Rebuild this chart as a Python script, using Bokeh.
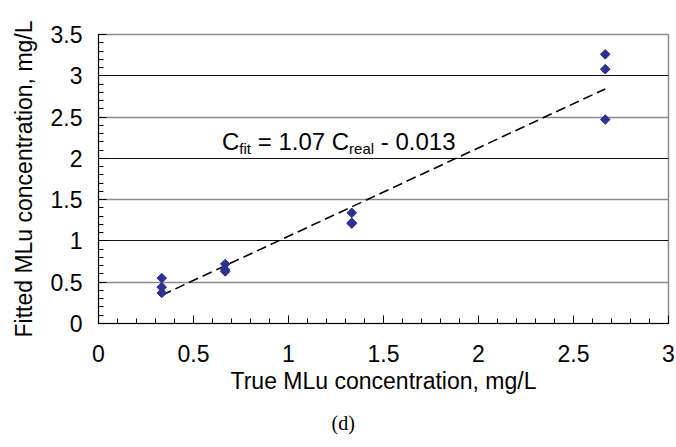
from bokeh.plotting import figure
from bokeh.models import Range1d, SingleIntervalTicker, FixedTicker, Grid, Label, Title, ColumnDataSource
from bokeh.embed import file_html
from bokeh.resources import INLINE
import math

# ---- data ----
true_conc = [0.333, 0.333, 0.333, 0.667, 0.667, 0.667, 1.333, 1.333, 1.333, 2.667, 2.667, 2.667]
fitted_conc = [0.55, 0.44, 0.37, 0.72, 0.65, 0.63, 1.34, 1.22, 1.21, 3.26, 3.08, 2.47]
fit_x = [0.333, 2.667]
fit_y = [0.343, 2.841]
x_ticks = [0, 0.5, 1, 1.5, 2, 2.5, 3]
x_tick_labels = ["0", "0.5", "1", "1.5", "2", "2.5", "3"]
y_ticks = [0, 0.5, 1, 1.5, 2, 2.5, 3, 3.5]
y_tick_labels = ["0", "0.5", "1", "1.5", "2", "2.5", "3", "3.5"]
x_title = "True MLu concentration, mg/L"
y_title = "Fitted MLu concentration, mg/L"
caption = "(d)"

FONT = "Liberation Sans"

p = figure(width=676, height=447, output_backend="svg", toolbar_location=None,
           x_range=Range1d(0, 3), y_range=Range1d(0, 3.5),
           min_border_left=98, min_border_right=8, min_border_top=34, min_border_bottom=124)
p.background_fill_color = "white"
p.border_fill_color = "white"
p.outline_line_color = "#8c8c8c"
p.outline_line_width = 1.5

# grids
p.xgrid.visible = False
p.ygrid.ticker = FixedTicker(ticks=[1, 2, 3])
p.ygrid.grid_line_color = "#111111"
p.ygrid.grid_line_width = 1
half_grid = Grid(dimension=1, ticker=FixedTicker(ticks=[0.5, 1.5, 2.5]),
                 grid_line_color="#8a8a8a", grid_line_width=1.5)
p.add_layout(half_grid)

for ax, ticks, labels in ((p.xaxis[0], x_ticks, x_tick_labels), (p.yaxis[0], y_ticks, y_tick_labels)):
    ax.ticker = SingleIntervalTicker(interval=0.5, num_minor_ticks=5)
    ax.major_label_overrides = {t: l for t, l in zip(ticks, labels)}
    ax.axis_line_color = "black"
    ax.axis_line_width = 1
    ax.major_tick_in = 8
    ax.major_tick_out = 0
    ax.minor_tick_in = 5
    ax.minor_tick_out = 0
    ax.major_tick_line_color = "black"
    ax.minor_tick_line_color = "black"
    ax.major_label_text_font = FONT
    ax.major_label_text_font_size = "23px"
    ax.major_label_text_color = "black"
    ax.axis_label_text_font = FONT
    ax.axis_label_text_font_size = "23px"
    ax.axis_label_text_font_style = "normal"
    ax.axis_label_text_color = "black"

p.xaxis.axis_label = x_title
p.yaxis.axis_label = y_title
p.xaxis.major_label_standoff = 21
p.xaxis.axis_label_standoff = 3
p.yaxis.major_label_standoff = 16
p.yaxis.axis_label_standoff = 11

# fit line
p.line(fit_x, fit_y, line_color="black", line_width=1.6, line_dash="10 5")

# data points (diamonds)
src = ColumnDataSource(dict(x=true_conc, y=fitted_conc))
p.scatter("x", "y", source=src, marker="square", angle=math.pi / 4, size=6.8,
          fill_color="#2E3192", line_color="#2E3192")

# equation with subscripts
eq_x, eq_y = 0.65, 2.2
pieces = [("C", 0, 0, "24px"), ("fit", 17.3, -7, "15px"), ("= 1.07 C", 35.7, 0, "24px"),
          ("real", 127.1, -7, "15px"), ("- 0.013", 158.8, 0, "24px")]
for txt, dx, dy, fs in pieces:
    p.add_layout(Label(x=eq_x, y=eq_y, x_offset=dx, y_offset=dy, text=txt,
                       text_font=FONT, text_font_size=fs, text_color="black",
                       text_baseline="alphabetic", text_align="left"))

# caption
p.add_layout(Title(text=caption, text_font="Liberation Serif", text_font_size="20px",
                   text_font_style="normal", text_color="black", align="left",
                   offset=233, standoff=26), "below")

open("out.html", "w").write(file_html(p, INLINE))
